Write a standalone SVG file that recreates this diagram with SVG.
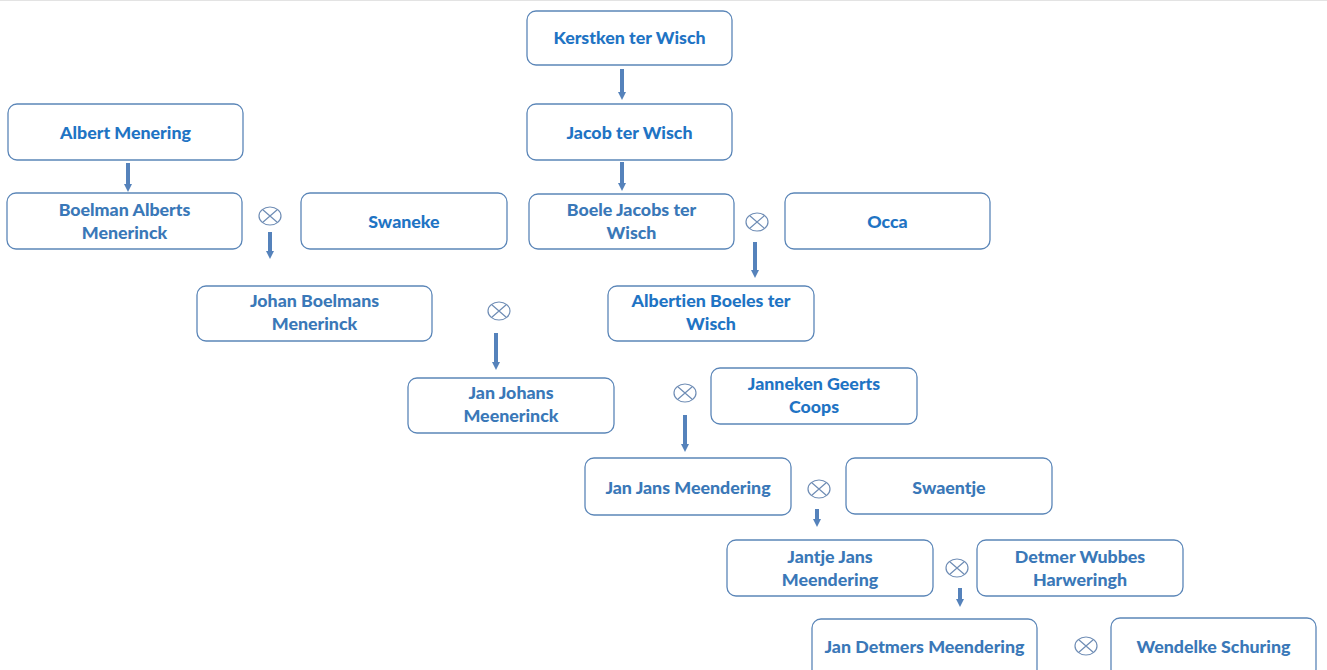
<svg xmlns="http://www.w3.org/2000/svg" width="1327" height="670" viewBox="0 0 1327 670">
<style>
.box{fill:#fff;stroke:#5b86b8;stroke-width:1.3}
.t{font-family:Lato,"Liberation Sans",sans-serif;font-weight:900;font-size:17.8px;text-anchor:middle;font-variant-ligatures:none}
.a{fill:#1f74c4}
.b{fill:#3a78b8}
.arr{stroke:#5582bb;stroke-width:4;fill:none}
.ot{fill:#fff;stroke:#6f8db5;stroke-width:1.2}
</style>
<defs>
<marker id="ah" markerUnits="userSpaceOnUse" markerWidth="10" markerHeight="8" refX="4" refY="4" orient="auto">
<path d="M0,0 L8,4 L0,8 Z" fill="#5582bb"/>
</marker>
<g id="otimes"><ellipse class="ot" cx="0" cy="0" rx="11" ry="9"/><path d="M-7.5,-6.5 L7.5,6.5 M-7.5,6.5 L7.5,-6.5" stroke="#6f8db5" stroke-width="1.2"/></g>
</defs>
<rect width="1327" height="670" fill="#fff"/>
<line x1="0" y1="0.5" x2="1327" y2="0.5" stroke="#e3e3e3"/>
<g id="connectors">
<line class="arr" x1="622" y1="69" x2="622" y2="96" marker-end="url(#ah)"/>
<line class="arr" x1="128" y1="163" x2="128" y2="188" marker-end="url(#ah)"/>
<line class="arr" x1="622" y1="162" x2="622" y2="187" marker-end="url(#ah)"/>
<line class="arr" x1="270" y1="232" x2="270" y2="255" marker-end="url(#ah)"/>
<line class="arr" x1="755" y1="242" x2="755" y2="274" marker-end="url(#ah)"/>
<line class="arr" x1="496" y1="333" x2="496" y2="366" marker-end="url(#ah)"/>
<line class="arr" x1="685" y1="415" x2="685" y2="448" marker-end="url(#ah)"/>
<line class="arr" x1="817" y1="509" x2="817" y2="523" marker-end="url(#ah)"/>
<line class="arr" x1="960" y1="588" x2="960" y2="603" marker-end="url(#ah)"/>
<use href="#otimes" x="270" y="216"/>
<use href="#otimes" x="757" y="222"/>
<use href="#otimes" x="499" y="311"/>
<use href="#otimes" x="685" y="393"/>
<use href="#otimes" x="819" y="489"/>
<use href="#otimes" x="957" y="568"/>
<use href="#otimes" x="1086" y="646"/>
</g>
<g id="n-kerstken"><rect class="box" x="527" y="11" width="205" height="54" rx="9"/><text class="t a" x="629.5" y="44">Kerstken ter Wisch</text></g>
<g id="n-albert"><rect class="box" x="8" y="104" width="235" height="56" rx="9"/><text class="t a" x="125.5" y="139">Albert Menering</text></g>
<g id="n-jacob"><rect class="box" x="527" y="104" width="205" height="56" rx="9"/><text class="t a" x="629.5" y="139">Jacob ter Wisch</text></g>
<g id="n-boelman"><rect class="box" x="7" y="193" width="235" height="56" rx="9"/><text class="t b" x="124.5" y="216">Boelman Alberts</text><text class="t b" x="124.5" y="239">Menerinck</text></g>
<g id="n-swaneke"><rect class="box" x="301" y="193" width="206" height="56" rx="9"/><text class="t a" x="404" y="228">Swaneke</text></g>
<g id="n-boele"><rect class="box" x="529" y="194" width="205" height="55" rx="9"/><text class="t b" x="631.5" y="216">Boele Jacobs ter</text><text class="t b" x="631.5" y="239">Wisch</text></g>
<g id="n-occa"><rect class="box" x="785" y="193" width="205" height="56" rx="9"/><text class="t a" x="887.5" y="228">Occa</text></g>
<g id="n-johan"><rect class="box" x="197" y="286" width="235" height="55" rx="9"/><text class="t b" x="314.5" y="307">Johan Boelmans</text><text class="t b" x="314.5" y="330">Menerinck</text></g>
<g id="n-albertien"><rect class="box" x="608" y="286" width="206" height="55" rx="9"/><text class="t a" x="711" y="307">Albertien Boeles ter</text><text class="t a" x="711" y="330">Wisch</text></g>
<g id="n-janjohans"><rect class="box" x="408" y="378" width="206" height="55" rx="9"/><text class="t b" x="511" y="399">Jan Johans</text><text class="t b" x="511" y="422">Meenerinck</text></g>
<g id="n-janneken"><rect class="box" x="711" y="368" width="206" height="56" rx="9"/><text class="t a" x="814" y="390">Janneken Geerts</text><text class="t a" x="814" y="413">Coops</text></g>
<g id="n-janjans"><rect class="box" x="585" y="458" width="206" height="57" rx="9"/><text class="t b" x="688" y="494">Jan Jans Meendering</text></g>
<g id="n-swaentje"><rect class="box" x="846" y="458" width="206" height="56" rx="9"/><text class="t b" x="949" y="494">Swaentje</text></g>
<g id="n-jantje"><rect class="box" x="727" y="540" width="206" height="56" rx="9"/><text class="t b" x="830" y="563">Jantje Jans</text><text class="t b" x="830" y="586">Meendering</text></g>
<g id="n-detmer"><rect class="box" x="977" y="540" width="206" height="56" rx="9"/><text class="t b" x="1080" y="563">Detmer Wubbes</text><text class="t b" x="1080" y="586">Harweringh</text></g>
<g id="n-jandetmers"><rect class="box" x="812" y="619" width="225" height="60" rx="9"/><text class="t b" x="924.5" y="653">Jan Detmers Meendering</text></g>
<g id="n-wendelke"><rect class="box" x="1111" y="618" width="205" height="60" rx="9"/><text class="t b" x="1213.5" y="653">Wendelke Schuring</text></g>
</svg>
